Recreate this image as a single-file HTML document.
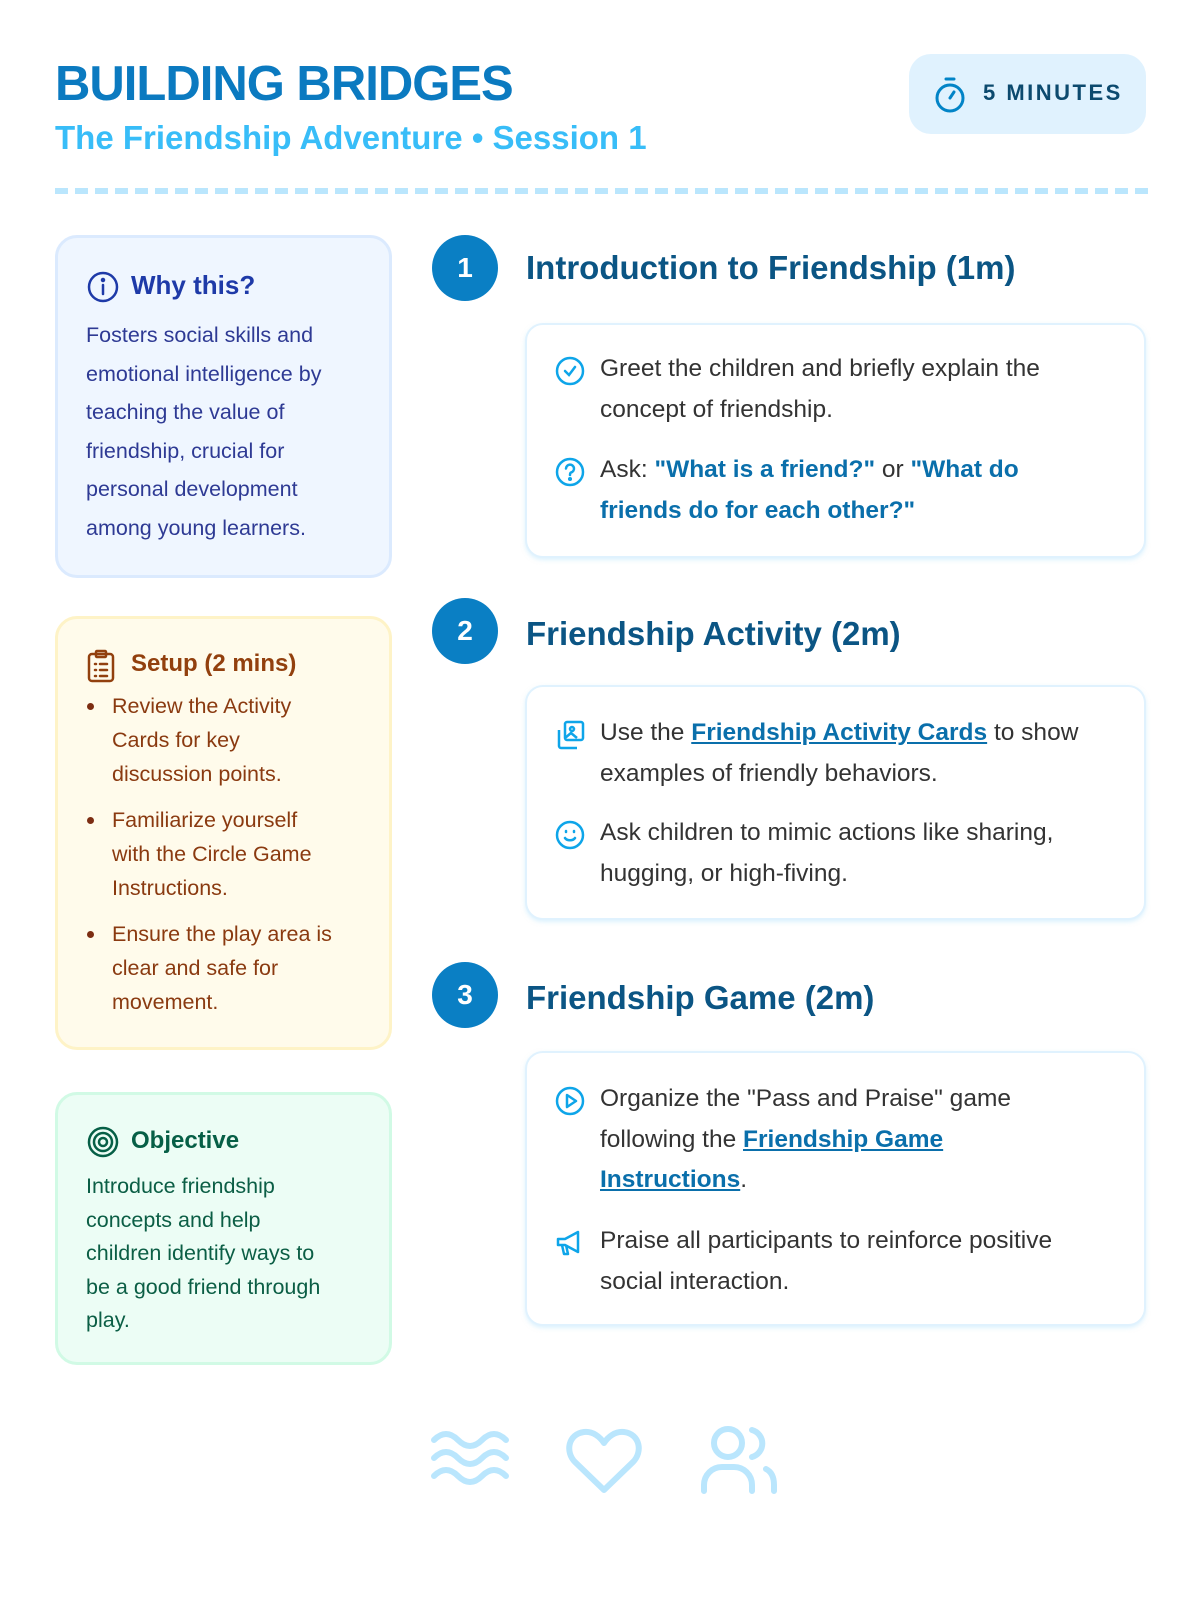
<!DOCTYPE html>
<html><head><meta charset="utf-8"><style>
*{margin:0;padding:0;box-sizing:border-box}
body{width:1200px;height:1600px;background:#fff;font-family:"Liberation Sans",sans-serif;position:relative;overflow:hidden}
.abs{position:absolute}
h1{position:absolute;left:55px;top:56px;font-size:49px;font-weight:bold;color:#0b7ac0;letter-spacing:-1px;line-height:56px}
.sub{position:absolute;left:55px;top:118px;font-size:33px;font-weight:bold;color:#38bdf8;line-height:40px}
.badge{position:absolute;left:909px;top:54px;width:237px;height:80px;background:#e0f2fe;border-radius:22px}
.badge span{position:absolute;left:74px;top:26px;font-size:22px;font-weight:bold;color:#0c4a6e;letter-spacing:2.5px}
.dash{position:absolute;left:55px;top:188px;width:1093px;height:6px;background:repeating-linear-gradient(90deg,#bae6fd 0 13px,transparent 13px 20px)}
.box{position:absolute;left:55px;width:337px;border-radius:22px;border:3px solid}
.box h3{position:absolute;left:73px;font-size:24px;font-weight:bold}
.box svg{position:absolute;left:28px}
.why{top:235px;height:343px;background:#eff6ff;border-color:#dbeafe}
.why h3{top:32px;color:#1e3aa8;font-size:26px}
.why p{position:absolute;left:28px;top:78px;width:300px;font-size:21.5px;line-height:38.5px;color:#2e3a94}
.setup{top:616px;height:434px;background:#fffbeb;border-color:#fef3c7}
.setup h3{top:31px;color:#92400e}
.setup ul{position:absolute;left:54px;top:70px;width:270px;font-size:21.5px;line-height:34px;color:#8a3a10;list-style:none}
.setup li{position:relative;margin-bottom:12px}
.setup li:before{content:"";position:absolute;left:-25px;top:14px;width:7px;height:7px;border-radius:50%;background:#7c2d12}
.obj{top:1092px;height:273px;background:#ecfdf5;border-color:#d1fae5}
.obj h3{top:32px;color:#065f46}
.obj p{position:absolute;left:28px;top:75px;width:300px;font-size:21.5px;line-height:33.5px;color:#0b5e45}
.num{position:absolute;left:432px;width:66px;height:66px;border-radius:50%;background:#0a7fc4;color:#fff;font-size:28px;font-weight:bold;text-align:center;line-height:66px}
.step{position:absolute;left:526px;font-size:33px;font-weight:bold;color:#0b5584;line-height:40px}
.card{position:absolute;left:525px;width:621px;background:#fff;border:2px solid #e0f2fe;border-radius:18px;box-shadow:0 2px 4px rgba(186,230,253,.5)}
.it{position:absolute;left:73px;width:540px;font-size:24.5px;line-height:40.5px;color:#333;white-space:nowrap}
.it svg{position:absolute;left:-46px;top:6px}
.q{color:#0a6fab;font-weight:bold}
a{color:#0a6fab;font-weight:bold;text-decoration:underline}
</style></head><body>
<h1>BUILDING BRIDGES</h1>
<div class="sub">The Friendship Adventure • Session 1</div>
<div class="badge">
<svg class="abs" style="left:24px;top:22px" width="34" height="38" viewBox="0 0 34 38" fill="none" stroke="#0284c7" stroke-width="3" stroke-linecap="round"><line x1="13" y1="3" x2="21" y2="3"/><circle cx="17" cy="22" r="13"/><line x1="17" y1="22" x2="21" y2="16"/></svg>
<span>5 MINUTES</span></div>
<div class="dash"></div>

<div class="box why">
<svg style="top:32px" width="34" height="34" viewBox="0 0 34 34" fill="none" stroke="#1e3aa8" stroke-width="2.5" stroke-linecap="round"><circle cx="17" cy="17" r="14"/><line x1="17" y1="15" x2="17" y2="24"/><circle cx="17" cy="10" r="1" fill="#1e3aa8"/></svg>
<h3>Why this?</h3>
<p>Fosters social skills and<br>emotional intelligence by<br>teaching the value of<br>friendship, crucial for<br>personal development<br>among young learners.</p></div>

<div class="box setup">
<svg style="top:30px" width="30" height="34" viewBox="0 0 30 34" fill="none" stroke="#92400e" stroke-width="2.5" stroke-linecap="round"><rect x="3" y="5" width="24" height="27" rx="3"/><rect x="10" y="2" width="10" height="6" rx="1"/><line x1="9" y1="15" x2="10" y2="15"/><line x1="14" y1="15" x2="21" y2="15"/><line x1="9" y1="21" x2="10" y2="21"/><line x1="14" y1="21" x2="21" y2="21"/><line x1="9" y1="27" x2="10" y2="27"/><line x1="14" y1="27" x2="21" y2="27"/></svg>
<h3>Setup (2 mins)</h3>
<ul><li>Review the Activity<br>Cards for key<br>discussion points.</li><li>Familiarize yourself<br>with the Circle Game<br>Instructions.</li><li>Ensure the play area is<br>clear and safe for<br>movement.</li></ul></div>

<div class="box obj">
<svg style="top:30px" width="34" height="34" viewBox="0 0 34 34" fill="none" stroke="#065f46" stroke-width="2.5"><circle cx="17" cy="17" r="14"/><circle cx="17" cy="17" r="9"/><circle cx="17" cy="17" r="4"/></svg>
<h3>Objective</h3>
<p>Introduce friendship<br>concepts and help<br>children identify ways to<br>be a good friend through<br>play.</p></div>

<div class="num" style="top:235px">1</div>
<div class="step" style="top:248px">Introduction to Friendship (1m)</div>
<div class="card" style="top:323px;height:235px">
<div class="it" style="top:24px"><svg width="32" height="32" viewBox="0 0 32 32" fill="none" stroke="#0ea5e9" stroke-width="2.5" stroke-linecap="round"><circle cx="16" cy="16" r="13"/><polyline points="11,16 15,20 21,12"/></svg>Greet the children and briefly explain the<br>concept of friendship.</div>
<div class="it" style="top:125px"><svg width="32" height="32" viewBox="0 0 32 32" fill="none" stroke="#0ea5e9" stroke-width="2.5" stroke-linecap="round"><circle cx="16" cy="16" r="13"/><path d="M12 12.5a4 4 0 1 1 5 4c-1 .5-1 1.5-1 2.5"/><circle cx="16" cy="23" r=".8" fill="#0ea5e9"/></svg>Ask: <span class="q">"What is a friend?"</span> or <span class="q">"What do</span><br><span class="q">friends do for each other?"</span></div>
</div>

<div class="num" style="top:598px">2</div>
<div class="step" style="top:614px">Friendship Activity (2m)</div>
<div class="card" style="top:685px;height:235px">
<div class="it" style="top:26px"><svg width="32" height="32" viewBox="0 0 32 32" fill="none" stroke="#0ea5e9" stroke-width="2.5" stroke-linejoin="round"><rect x="11" y="3" width="18" height="18" rx="2"/><circle cx="18" cy="10" r="2"/><path d="M11 19l6-5 6 5"/><path d="M5 11v16a2 2 0 0 0 2 2h16"/></svg>Use the <a>Friendship Activity Cards</a> to show<br>examples of friendly behaviors.</div>
<div class="it" style="top:126px"><svg width="32" height="32" viewBox="0 0 32 32" fill="none" stroke="#0ea5e9" stroke-width="2.5" stroke-linecap="round"><circle cx="16" cy="16" r="13"/><path d="M11 19c2 3 8 3 10 0"/><line x1="12" y1="12" x2="12" y2="13"/><line x1="20" y1="12" x2="20" y2="13"/></svg>Ask children to mimic actions like sharing,<br>hugging, or high-fiving.</div>
</div>

<div class="num" style="top:962px">3</div>
<div class="step" style="top:978px">Friendship Game (2m)</div>
<div class="card" style="top:1051px;height:275px">
<div class="it" style="top:26px"><svg width="32" height="32" viewBox="0 0 32 32" fill="none" stroke="#0ea5e9" stroke-width="2.5" stroke-linejoin="round"><circle cx="16" cy="16" r="13"/><polygon points="13,10 22,16 13,22"/></svg>Organize the "Pass and Praise" game<br>following the <a>Friendship Game</a><br><a>Instructions</a>.</div>
<div class="it" style="top:168px"><svg width="32" height="32" viewBox="0 0 32 32" fill="none" stroke="#0ea5e9" stroke-width="2.5" stroke-linejoin="round"><path d="M4 12h7l13-7v20l-13-7H4z"/><path d="M8 18l2 9h4l-2-9"/></svg>Praise all participants to reinforce positive<br>social interaction.</div>
</div>

<svg class="abs" style="left:430px;top:1428px" width="80" height="62" viewBox="0 0 80 62" fill="none" stroke="#bae6fd" stroke-width="6" stroke-linecap="round"><path d="M4 12c8-8 16-8 24 0s16 8 24 0 16-8 24 0"/><path d="M4 30c8-8 16-8 24 0s16 8 24 0 16-8 24 0"/><path d="M4 48c8-8 16-8 24 0s16 8 24 0 16-8 24 0"/></svg>
<svg class="abs" style="left:565px;top:1428px" width="78" height="68" viewBox="0 0 78 68" fill="none" stroke="#bae6fd" stroke-width="6" stroke-linejoin="round"><path d="M39 62L10 34C0 24 3 6 19 4c9-1 16 5 20 11 4-6 11-12 20-11 16 2 19 20 9 30z"/></svg>
<svg class="abs" style="left:700px;top:1425px" width="78" height="70" viewBox="0 0 78 70" fill="none" stroke="#bae6fd" stroke-width="6" stroke-linecap="round"><circle cx="28" cy="18" r="14"/><path d="M4 66v-6c0-10 8-18 18-18h12c10 0 18 8 18 18v6"/><path d="M52 5a14 14 0 0 1 0 27"/><path d="M66 44c6 3 8 9 8 16v6"/></svg>
</body></html>
